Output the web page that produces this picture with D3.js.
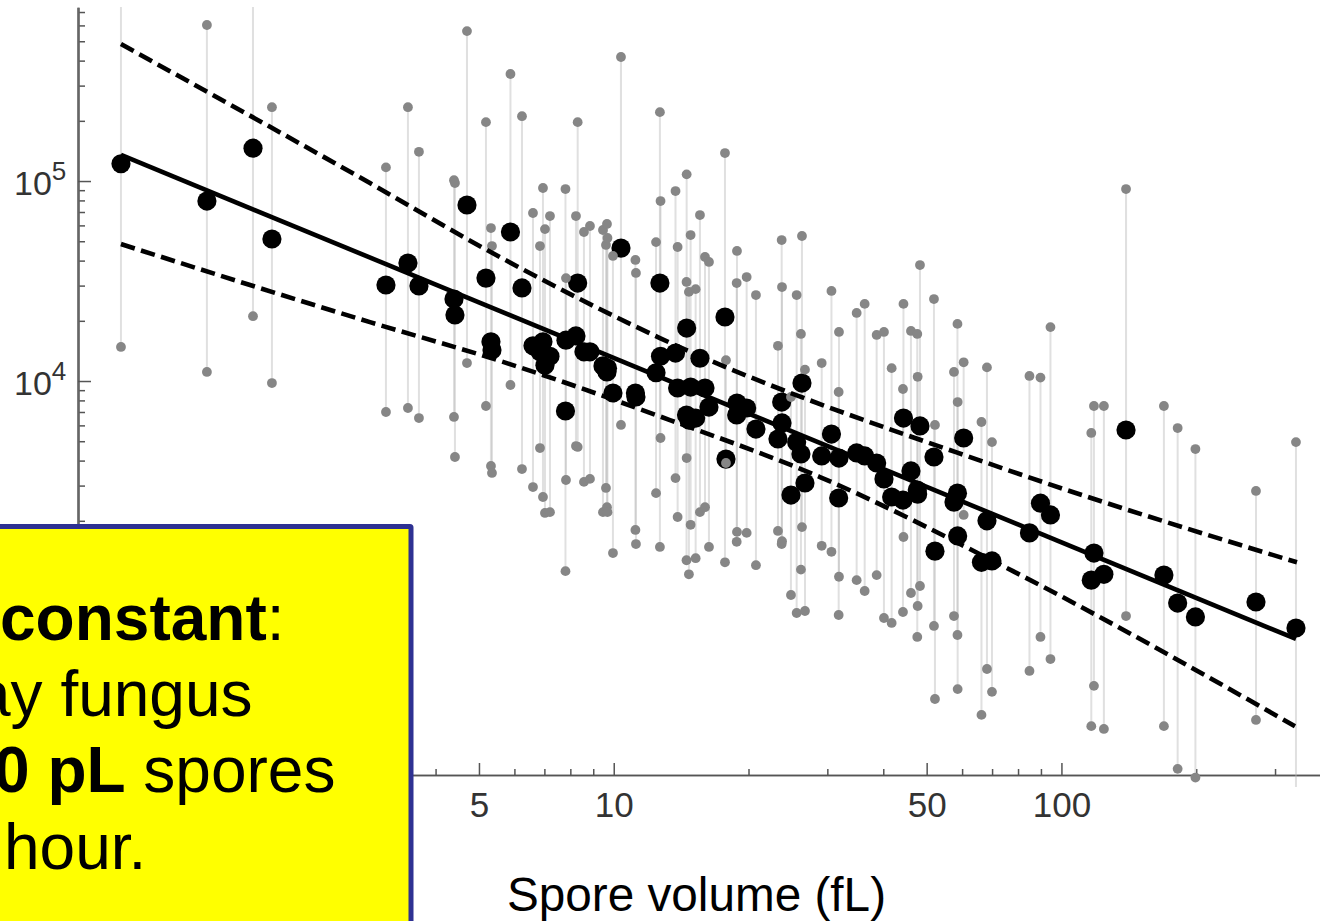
<!DOCTYPE html>
<html>
<head>
<meta charset="utf-8">
<script src="https://cdn.jsdelivr.net/npm/d3@7"></script>
<style>
    html, body { margin: 0; background: #fff; overflow: hidden; }
    text { font-family: "Liberation Sans", Arial, sans-serif; }
</style>
</head>
<body>
<svg id="viz_area" width="1320" height="921"></svg>
<script>
// one entry per species
const spore_volume = [0.7931, 1.234, 1.564, 1.724, 3.099, 3.47, 3.672, 4.397, 4.419, 4.701, 5.183, 5.318, 5.346, 5.879, 6.238, 6.601, 6.843, 6.949, 7.021, 7.204,
    7.802, 7.822, 8.234, 8.307, 8.58, 8.849, 9.461, 9.608, 9.658, 9.683, 9.96, 10.38, 11.18, 11.21, 12.43, 12.68, 12.72, 13.74, 13.89, 14.55, 14.54,
    14.72, 14.85, 15.24, 15.58, 15.99, 16.32, 17.72, 17.81, 18.85, 18.82, 19.81, 20.78, 23.27, 23.72, 23.76, 24.88, 25.62, 26.33, 26.19, 26.74,
    29.14, 30.64, 31.85, 31.8, 34.88, 36.35, 38.66, 40.14, 41.76, 44.26, 44.38, 46.12, 47.74, 47.64, 48.31, 51.91, 52.18, 57.54, 58.58, 58.64, 60.48,
    68.18, 66.28, 69.96, 84.84, 89.78, 94.51, 116.6, 118.2, 124.4, 139.4, 169.4, 181.8, 199.2, 272, 334.1];
const rate_mean = [122000, 79400, 146000, 51300, 30200, 38900, 29900, 25700, 21400, 75900, 32700, 15700, 14300, 55600, 29200, 15000, 14000, 15700, 12000, 13300,
    7080, 16000, 16800, 30900, 14000, 14000, 11900, 11400, 11100, 11600, 8710, 46200, 8710, 8320, 11000, 30900, 13300, 13800, 9230, 18400, 6760,
    6380, 9330, 6530, 13000, 9230, 7410, 20900, 4070, 7760, 6760, 7330, 5750, 5130, 7850, 6170, 2690, 4950, 9770, 4320, 3090, 4220, 5430, 4120, 2600,
    4370, 4220, 3890, 3240, 2630, 2540, 6530, 3550, 2720, 2850, 5960, 4170, 1410, 2480, 2750, 1680, 5190, 2000, 1240, 1260, 1740, 2450, 2140, 1010,
    1380, 1080, 5690, 1070, 776, 661, 785, 582];
const rate_upper = [1140000, 603000, 1140000, 234000, 117000, 234000, 140000, 101000, 97700, 562000, 197000, 58200, 47300, 343000, 211000, 69200, 47300, 92300,
    57500, 66800, 91200, 32700, 66800, 197000, 55600, 59600, 56900, 47900, 61000, 51900, 42200, 417000, 40300, 34700, 49500, 221000, 79400, 89100,
    46800, 108000, 31300, 27900, 53700, 28800, 67600, 41700, 39400, 138000, 12700, 44700, 30900, 33100, 26900, 15000, 50700, 29500, 8320, 26900,
    53100, 17200, 11400, 12300, 28200, 17600, 8810, 21900, 24300, 17000, 17600, 11600, 9120, 24300, 17800, 10500, 17200, 38000, 25700, 6030, 11100,
    19300, 7850, 12400, 11700, 6240, 4950, 10600, 10400, 18600, 5500, 7500, 7500, 91200, 7500, 5820, 4570, 2820, 4950];
const rate_lower = [14800, 11100, 21100, 9770, 7000, 7330, 6530, 6610, 4170, 12300, 7500, 3760, 3470, 9550, 3630, 2950, 4620, 2630, 2190, 2210, 1120, 3200, 4730,
    4680, 3130, 3240, 2210, 2920, 2340, 2210, 1380, 6030, 1800, 1530, 2750, 1480, 5190, 3270, 2090, 4120, 1270, 1080, 1910, 1300, 2210, 2340, 1480,
    1240, 3890, 1760, 1570, 1740, 1200, 1780, 1530, 1580, 851, 692, 1860, 1140, 708, 1500, 1400, 1050, 676, 1010, 891, 1070, 653, 617, 700, 1660,
    871, 750, 525, 944, 596, 257, 668, 537, 288, 2140, 363, 214, 279, 355, 525, 407, 188, 299, 182, 668, 188, 115, 104, 202, 63.8];

// fitted line and its confidence band
const fit_x = [0.7931, 334.1];
const fit_y = [135000, 513];
const band_upper_x = [0.7931, 2.854, 5.21, 12.68, 73.65, 335.8];
const band_upper_y = [484000, 97700, 45200, 16400, 3670, 1240];
const band_lower_x = [0.7931, 2.854, 5.513, 13.35, 28.88, 77.94, 332.4];
const band_lower_y = [48400, 19700, 12700, 6380, 3310, 1120, 188];

const x_major = [5, 10, 50, 100];
const x_minor = [4, 6, 7, 8, 9, 20, 30, 40, 60, 70, 80, 90, 200, 300];
const y_major = [10000, 100000];
const y_minor = [2000, 3000, 4000, 5000, 6000, 7000, 8000, 9000, 20000, 30000, 40000, 50000, 60000, 70000, 80000, 90000,
    200000, 300000, 400000, 500000, 600000, 700000];

const svg = d3.select("#viz_area");

const x = d3.scaleLog().domain([0.75, 380]).range([110.1, 1321]);
const y = d3.scaleLog().domain([1000, 740000]).range([581, 7.2]);

const species = spore_volume.map((v, i) => ({
    v: v, mean: rate_mean[i], upper: rate_upper[i], lower: rate_lower[i]
}));

const defs = svg.append("defs");
defs.append("clipPath").attr("id", "plot_clip")
    .append("rect").attr("x", 0).attr("y", 7).attr("width", 1320).attr("height", 780);
// the source is a soft, low quality image
defs.append("filter").attr("id", "soft")
    .attr("x", 0).attr("y", 0).attr("width", 1320).attr("height", 921)
    .attr("filterUnits", "userSpaceOnUse")
    .append("feGaussianBlur").attr("stdDeviation", 0.6);

// axes, minor ticks first so the major ones sit on top
const axis_colour = "#555";

const draw_x = (values, size) => {
    const g = svg.append("g")
        .attr("transform", "translate(0,775)")
        .call(d3.axisBottom(x).tickValues(values).tickSizeInner(-size).tickSizeOuter(0)
            .tickPadding(17).tickFormat(d => x_major.includes(d) ? d : ""));
    g.selectAll("line").attr("stroke", axis_colour).attr("stroke-width", 1.5);
    g.select(".domain").attr("stroke", axis_colour).attr("stroke-width", 1.6);
    g.selectAll("text").attr("font-size", 35).attr("fill", "#333")
        .style("font-family", '"Liberation Sans", Arial, sans-serif');
};
draw_x(x_minor, 6);
draw_x(x_major, 12);

const draw_y = (values, size) => {
    const g = svg.append("g")
        .attr("transform", "translate(78,0)")
        .call(d3.axisLeft(y).tickValues(values).tickSizeInner(-size).tickSizeOuter(0).tickFormat(""));
    g.selectAll("line").attr("stroke", axis_colour).attr("stroke-width", 1.5);
    g.select(".domain").attr("stroke", "#666").attr("stroke-width", 2.2);
};
draw_y(y_minor, 7);
draw_y(y_major, 13);

// 10^n labels
const y_labels = svg.append("g").selectAll("text")
    .data(y_major)
    .enter()
    .append("text")
    .attr("x", 14)
    .attr("y", d => y(d) + 14)
    .attr("font-size", 34)
    .attr("fill", "#333");
y_labels.append("tspan").text("10");
y_labels.append("tspan")
    .attr("dy", -15)
    .attr("font-size", 26)
    .text(d => Math.round(Math.log10(d)));

const marks = svg.append("g").attr("filter", "url(#soft)");
const plot = marks.append("g").attr("clip-path", "url(#plot_clip)");

// range stems
plot.selectAll("line.stem")
    .data(species)
    .enter()
    .append("line")
    .attr("class", "stem")
    .attr("x1", d => x(d.v))
    .attr("x2", d => x(d.v))
    .attr("y1", d => y(d.upper))
    .attr("y2", d => y(d.lower))
    .attr("stroke", "#b4b4b4")
    .attr("stroke-opacity", 0.42)
    .attr("stroke-width", 2);

plot.selectAll("circle.mean")
    .data(species)
    .enter()
    .append("circle")
    .attr("class", "mean")
    .attr("cx", d => x(d.v))
    .attr("cy", d => y(d.mean))
    .attr("r", 9.6)
    .attr("fill", "#000");

const ends = species.flatMap(d => [{v: d.v, r: d.upper}, {v: d.v, r: d.lower}]);
marks.selectAll("circle.end")
    .data(ends.filter(d => y(d.r) > 7 && y(d.r) < 787))
    .enter()
    .append("circle")
    .attr("class", "end")
    .attr("cx", d => x(d.v))
    .attr("cy", d => y(d.r))
    .attr("r", 4.9)
    .attr("fill", "#868686");

// fit and confidence band
const line = d3.line().x(d => x(d[0])).y(d => y(d[1]));
const band_line = d3.line().x(d => x(d[0])).y(d => y(d[1])).curve(d3.curveMonotoneX);

marks.append("path")
    .attr("d", line(d3.zip(fit_x, fit_y)))
    .attr("fill", "none")
    .attr("stroke", "#000")
    .attr("stroke-width", 4.6);

[d3.zip(band_upper_x, band_upper_y), d3.zip(band_lower_x, band_lower_y)].forEach(pts => {
    marks.append("path")
        .attr("d", band_line(pts))
        .attr("fill", "none")
        .attr("stroke", "#000")
        .attr("stroke-width", 4.6)
        .attr("stroke-dasharray", "14.5 6.5");
});

// axis title
svg.append("text")
    .attr("x", 507)
    .attr("y", 911)
    .attr("font-size", 47.7)
    .attr("fill", "#000")
    .text("Spore volume (fL)");

// callout box, runs off the left and bottom of the slide
svg.append("rect")
    .attr("x", -10)
    .attr("y", 526.5)
    .attr("width", 421)
    .attr("height", 420)
    .attr("fill", "#ffff00")
    .attr("stroke", "#2e3192")
    .attr("stroke-width", 5)
    .attr("rx", 1);

const note = svg.append("g").attr("font-size", 64).attr("fill", "#000");
const note_line = (tx, ty, parts) => {
    const t = note.append("text").attr("x", tx).attr("y", ty);
    parts.forEach(p => t.append("tspan").attr("font-weight", p[1] ? "bold" : "normal").text(p[0]));
};
note_line(0, 640, [["constant", true], [":", false]]);
note_line(-25, 716, [["ay fungus", false]]);
note_line(-6, 792, [["0 pL", true], [" spores", false]]);
note_line(4, 869, [["hour.", false]]);
</script>
</body>
</html>
